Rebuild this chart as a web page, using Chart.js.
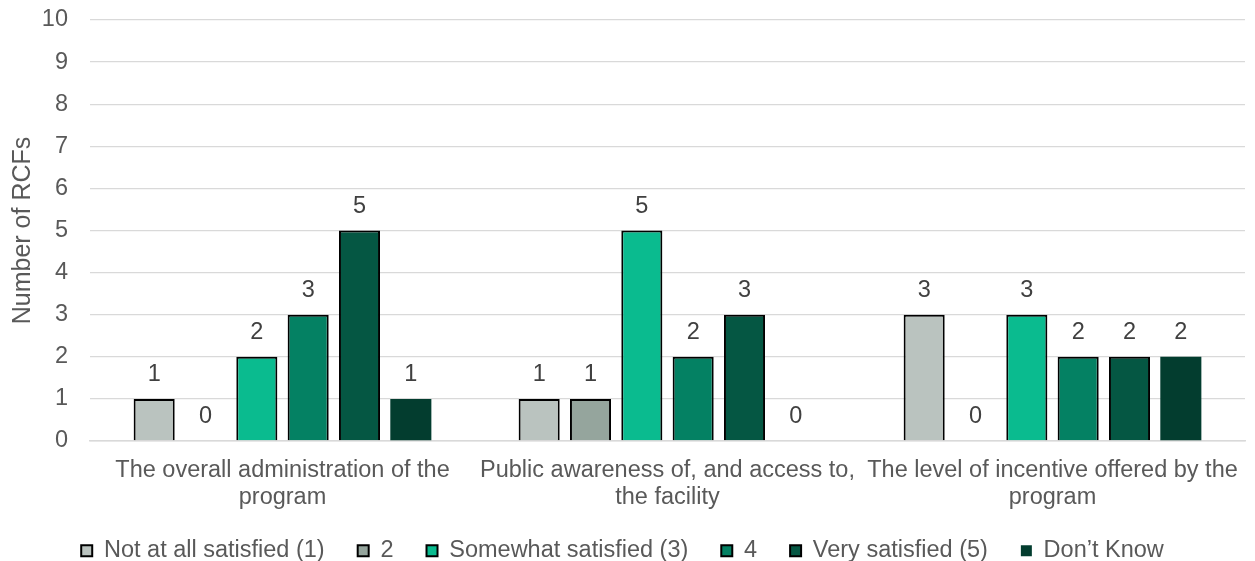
<!DOCTYPE html>
<html>
<head>
<meta charset="utf-8">
<script src="https://cdn.jsdelivr.net/npm/chart.js@4.4.1/dist/chart.umd.min.js"></script>
<style>
  html,body{margin:0;padding:0;background:#fff;}
  #wrap{width:1255px;height:561px;position:relative;}
</style>
</head>
<body>
<div id="wrap"><canvas id="chart"></canvas></div>
<script>
// categories and series
const categories = [
  ["The overall administration of the", "program"],
  ["Public awareness of, and access to,", "the facility"],
  ["The level of incentive offered by the", "program"]
];
const seriesNames = ["Not at all satisfied (1)", "2", "Somewhat satisfied (3)", "4", "Very satisfied (5)", "Don\u2019t Know"];
const notAtAll   = [1, 1, 3];
const two        = [0, 1, 0];
const somewhat   = [2, 5, 3];
const four       = [3, 2, 2];
const very       = [5, 3, 2];
const dontKnow   = [1, 0, 2];
const yTicks = [0, 10, 1]; // min, max, step

const colors = ["#BAC3BF", "#95A59D", "#0ABB8F", "#048163", "#055743", "#033D2F"];
const borders = [2, 2, 2, 2, 2, 0];
const allSeries = [notAtAll, two, somewhat, four, very, dontKnow];

const FONT = "'Liberation Sans', Arial, sans-serif";
const FS = 23.5;

// labels over bars
const valueLabels = {
  id: 'valueLabels',
  afterDatasetsDraw(chart){
    const ctx = chart.ctx;
    ctx.save();
    ctx.font = FS + "px " + FONT;
    ctx.fillStyle = "#404040";
    ctx.textAlign = "center";
    ctx.textBaseline = "middle";
    chart.data.datasets.forEach((ds, i) => {
      const meta = chart.getDatasetMeta(i);
      meta.data.forEach((bar, j) => {
        ctx.fillText(String(ds.data[j]), bar.x, bar.y - 24);
      });
    });
    ctx.restore();
  }
};

// fix legend box height so the plot area lands where the original is
const legendHeight = {
  id: 'legendHeight',
  beforeUpdate(chart){
    const lg = chart.legend;
    if(lg && !lg._patched){
      const orig = lg.fit;
      lg.fit = function(){ orig.call(this); this.height = 55; };
      lg._patched = true;
    }
  }
};

new Chart(document.getElementById('chart'), {
  type: 'bar',
  data: {
    labels: categories,
    datasets: allSeries.map((d, i) => ({
      label: seriesNames[i],
      data: d,
      backgroundColor: colors[i],
      borderColor: "#000",
      borderWidth: borders[i],
      categoryPercentage: 0.8,
      barPercentage: 0.8
    }))
  },
  options: {
    responsive: true,
    maintainAspectRatio: false,
    animation: false,
    layout: {padding: {left: 0, right: 10, top: 20, bottom: 0}},
    scales: {
      x: {
        grid: {display: false},
        border: {color: "#D9D9D9", width: 1.5},
        ticks: {color: "#595959", font: {family: FONT, size: FS, lineHeight: 1.15}, maxRotation: 0, autoSkip: false, padding: 8},
        afterFit(scale){
          scale.height = 65;
          scale._computeLabelArea = () => undefined; // don't clip the second label line
        }
      },
      y: {
        min: yTicks[0], max: yTicks[1],
        ticks: {stepSize: yTicks[2], color: "#595959", font: {family: FONT, size: FS}, padding: 22},
        grid: {color: "#D9D9D9", lineWidth: 1.3, drawTicks: false},
        border: {display: false},
        title: {display: true, text: "Number of RCFs", color: "#595959", font: {family: FONT, size: 25}, padding: {top: 8, bottom: 0}},
        afterFit(scale){ scale.width = 90; scale.paddingTop = 0; scale.paddingBottom = 0; }
      }
    },
    plugins: {
      legend: {
        position: 'bottom',
        labels: {
          color: "#595959",
          font: {family: FONT, size: FS},
          boxWidth: 11, boxHeight: 11,
          padding: 33
        }
      },
      tooltip: {enabled: false}
    }
  },
  plugins: [valueLabels, legendHeight]
});
</script>
</body>
</html>
